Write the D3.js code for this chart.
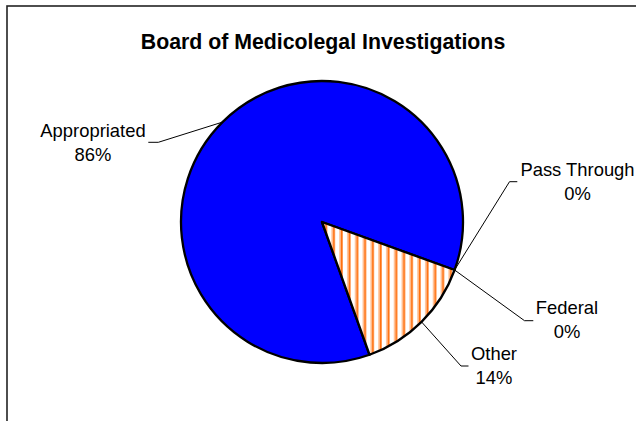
<!DOCTYPE html>
<html>
<head>
<meta charset="utf-8">
<script src="https://cdn.jsdelivr.net/npm/d3@7"></script>
<style>
  html, body { margin: 0; padding: 0; background: #fff; }
  svg { display: block; }
  text { font-family: "Liberation Sans", Arial, sans-serif; fill: #000; }
</style>
</head>
<body>
<script>
// ---- data ----
const title = "Board of Medicolegal Investigations";
const categories = ["Appropriated", "Pass Through", "Federal", "Other"];
const values = [86, 0, 0, 14];
const percentLabels = ["86%", "0%", "0%", "14%"];

// ---- layout (not data) ----
const W = 636, H = 421;
const cx = 322, cy = 222, R = 141;
const startDeg = 160.3;
const labelLayout = [
  { tx: 93,    ty: 136.5, elbow: [158.3, 142.3], end: [148.3, 142.3] },
  { tx: 577.5, ty: 176,   elbow: [509.5, 181.7], end: [517.3, 181.7] },
  { tx: 567,   ty: 313.5, elbow: [524.5, 320.7], end: [533.3, 320.7] },
  { tx: 494,   ty: 359.5, elbow: [461,   366],   end: [468.5, 366] }
];
const colors = ["#0000FF", "#FFFFFF", "#FFFFFF", "url(#hatch)"];

const svg = d3.select("body").append("svg")
  .attr("width", W).attr("height", H);

// hatch pattern (vertical orange stripes)
const defs = svg.append("defs");
const pat = defs.append("pattern")
  .attr("id", "hatch")
  .attr("patternUnits", "userSpaceOnUse")
  .attr("x", 344.7).attr("y", 0)
  .attr("width", 7.8).attr("height", 10);
pat.append("rect").attr("width", 7.8).attr("height", 10).attr("fill", "#fff");
pat.append("rect").attr("x", 0).attr("width", 1.6).attr("height", 10).attr("fill", "#FFC9A3");
pat.append("rect").attr("x", 1.6).attr("width", 2).attr("height", 10).attr("fill", "#FF6E0A");

// frame
svg.append("rect")
  .attr("x", 7).attr("y", 6)
  .attr("width", W + 20).attr("height", H + 20)
  .attr("fill", "none").attr("stroke", "#222").attr("stroke-width", 1.6);

// title
svg.append("text")
  .attr("x", 323).attr("y", 49)
  .attr("text-anchor", "middle")
  .attr("font-weight", "bold")
  .attr("font-size", 21.3)
  .text(title);

// pie
const data = categories.map((c, i) => ({ name: c, value: values[i], pct: percentLabels[i], i }));
const start = startDeg * Math.PI / 180;
const pie = d3.pie().value(d => d.value).sort(null)
  .startAngle(start).endAngle(start + 2 * Math.PI);
const arcs = pie(data);
const arc = d3.arc().innerRadius(0).outerRadius(R);
const edgeArc = d3.arc().innerRadius(R).outerRadius(R);

const g = svg.append("g").attr("transform", `translate(${cx},${cy})`);
g.selectAll("path.slice")
  .data(arcs.filter(a => a.data.value > 0))
  .join("path")
  .attr("class", "slice")
  .attr("d", arc)
  .attr("fill", d => colors[d.data.i])
  .attr("stroke", "#000")
  .attr("stroke-width", 2.3)
  .attr("stroke-linejoin", "round");

// leader lines
const line = d3.line();
arcs.forEach(a => {
  const L = labelLayout[a.data.i];
  const p = edgeArc.centroid(a);
  const p0 = [p[0] + cx, p[1] + cy];
  svg.append("path")
    .attr("d", line([p0, L.elbow, L.end]))
    .attr("fill", "none")
    .attr("stroke", "#000")
    .attr("stroke-width", 1);
  const t = svg.append("text")
    .attr("x", L.tx).attr("y", L.ty)
    .attr("text-anchor", "middle")
    .attr("font-size", 18.4);
  t.append("tspan").attr("x", L.tx).text(a.data.name);
  t.append("tspan").attr("x", L.tx).attr("dy", 24).text(a.data.pct);
});
</script>
</body>
</html>
